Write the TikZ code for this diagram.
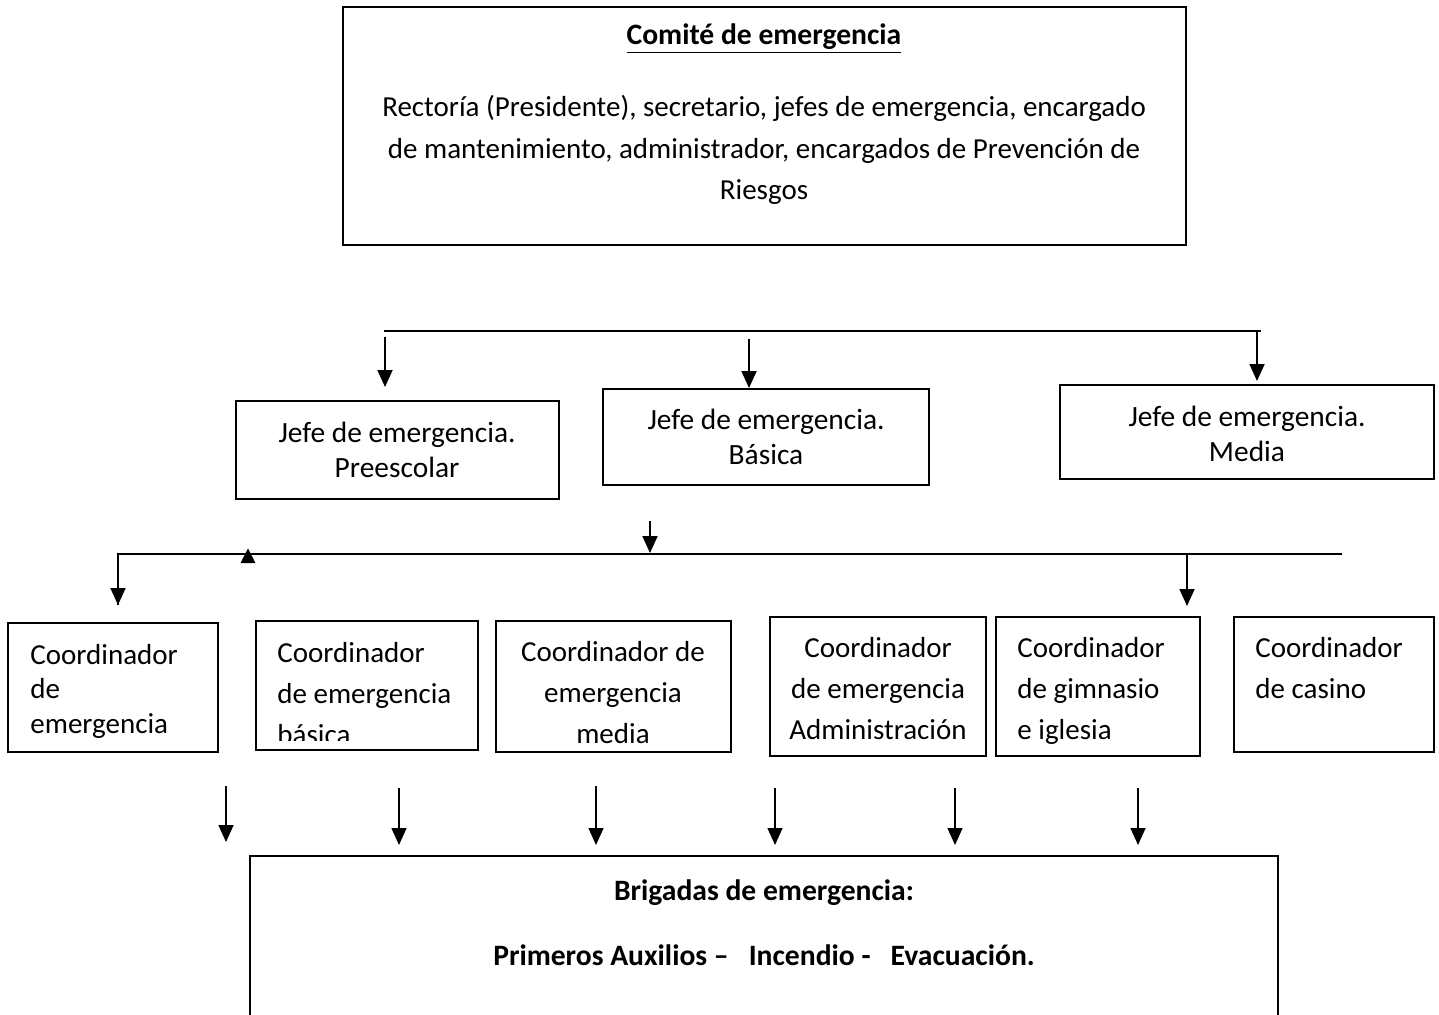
\documentclass[tikz,border=0pt]{standalone}
\usepackage{fontspec}
\setmainfont{Carlito}
\usetikzlibrary{arrows.meta,fit}
\begin{document}
\begin{tikzpicture}[x=0.5pt,y=-0.5pt,
  box/.style={draw, line width=0.9pt, inner sep=0pt},
  conn/.style={line width=0.9pt},
  arr/.style={line width=0.9pt, -{Triangle[width=7.5pt,length=8.5pt]}},
  txt/.style={inner sep=0pt, font=\fontsize{14.7}{17.5}\selectfont},
  ctxt/.style={inner sep=0pt, font=\fontsize{14.5}{20.5}\selectfont},
  btxt/.style={inner sep=0pt, font=\fontsize{14.8}{17.5}\selectfont\bfseries},
]
\useasboundingbox (0,0) rectangle (1439,1014);
\clip (0,0) rectangle (1439,1014);

% top box
\node[box, fit={(343,7) (1186,245)}] (top) {};
\node[btxt] (toptitle) at (764,39) {\underline{Comité de emergencia}};
\node[txt, align=center, font=\fontsize{14.5}{20.8}\selectfont] (topbody) at (764,150)
  {Rectoría (Presidente), secretario, jefes de emergencia, encargado\\
   de mantenimiento, administrador, encargados de Prevención de\\
   Riesgos};

% first distribution line
\coordinate (l1a) at (384,331);
\coordinate (l1b) at (1261,331);
\draw[conn] (l1a) -- (l1b);
\coordinate (a1s) at (385,337);  \coordinate (a1e) at (385,387);
\coordinate (a2s) at (749,339);  \coordinate (a2e) at (749,388);
\coordinate (a3s) at (1257,331); \coordinate (a3e) at (1257,381);
\draw[arr] (a1s) -- (a1e);
\draw[arr] (a2s) -- (a2e);
\draw[arr] (a3s) -- (a3e);

% jefe boxes
\node[box, fit={(236,401) (559,499)}] (jpre) {};
\node[txt, align=center] (tpre) at (397,450) {Jefe de emergencia.\\Preescolar};
\node[box, fit={(603,389) (929,485)}] (jbas) {};
\node[txt, align=center] (tbas) at (766,437) {Jefe de emergencia.\\Básica};
\node[box, fit={(1060,385) (1434,479)}] (jmed) {};
\node[txt, align=center] (tmed) at (1247,434) {Jefe de emergencia.\\Media};

% second distribution line
\coordinate (b0s) at (650,521); \coordinate (b0e) at (650,553);
\draw[arr] (b0s) -- (b0e);
\coordinate (l2a) at (118,554);
\coordinate (l2b) at (1342,554);
\coordinate (l2d) at (118,605);
\draw[conn] (l2b) -- (l2a) -- (l2d);
\draw[arr] (l2a) -- (l2d);
\coordinate (upb) at (248,563); \coordinate (upt) at (248,549);
\fill (247.5,563) -- (255.5,563) -- (248,548.5) -- (240.5,563) -- cycle;
\coordinate (r2s) at (1187,554); \coordinate (r2e) at (1187,606);
\draw[arr] (r2s) -- (r2e);

% coordinator boxes
\node[box, fit={(8,623) (218,752)}] (c1) {};
\node[inner sep=0pt, font=\fontsize{14.5}{17.2}\selectfont, align=left, anchor=north west] (tc1) at (30,644)
  {Coordinador\\de\\emergencia};

\node[box, fit={(256,621) (478,750)}] (c2) {};
\begin{scope}
\clip (256,621) rectangle (478,740);
\node[ctxt, align=left, anchor=north west] (tc2) at (277,642)
  {Coordinador\\de emergencia\\básica};
\end{scope}

\node[box, fit={(496,621) (731,752)}] (c3) {};
\node[ctxt, align=center, anchor=north] (tc3) at (613,641)
  {Coordinador de\\emergencia\\media};

\node[box, fit={(770,617) (986,756)}] (c4) {};
\node[ctxt, align=center, anchor=north] (tc4) at (878,637)
  {Coordinador\\de emergencia\\Administración};

\node[box, fit={(996,617) (1200,756)}] (c5) {};
\node[ctxt, align=left, anchor=north west] (tc5) at (1017,637)
  {Coordinador\\de gimnasio\\e iglesia};

\node[box, fit={(1234,617) (1434,752)}] (c6) {};
\node[ctxt, align=left, anchor=north west] (tc6) at (1255,637)
  {Coordinador\\de casino};

% arrows to brigades
\coordinate (d1s) at (226,786);  \coordinate (d1e) at (226,842);
\coordinate (d2s) at (399,788);  \coordinate (d2e) at (399,845);
\coordinate (d3s) at (596,786);  \coordinate (d3e) at (596,845);
\coordinate (d4s) at (775,788);  \coordinate (d4e) at (775,845);
\coordinate (d5s) at (955,788);  \coordinate (d5e) at (955,845);
\coordinate (d6s) at (1138,788); \coordinate (d6e) at (1138,845);
\foreach \i in {1,...,6} {\draw[arr, line width=0.75pt] (d\i s) -- (d\i e);}

% brigades box
\node[box, fit={(250,856) (1278,1040)}] (brig) {};
\node[btxt] (tb1) at (764,893) {Brigadas de emergencia:};
\node[btxt] (tb2) at (764,955) {Primeros Auxilios –\ \ \ Incendio -\ \ \ Evacuación.};
\end{tikzpicture}
\end{document}
